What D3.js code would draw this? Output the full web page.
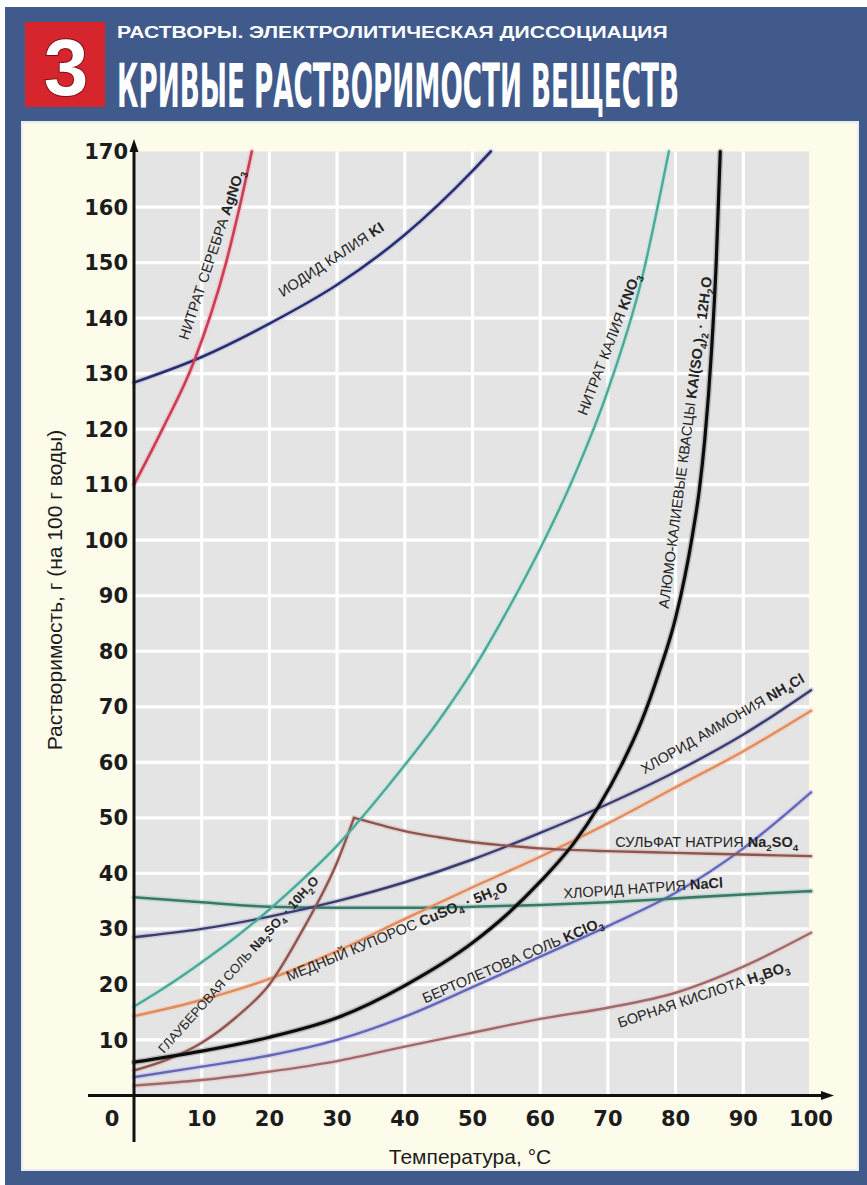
<!DOCTYPE html>
<html lang="ru">
<head>
<meta charset="UTF-8">
<title>Кривые растворимости веществ</title>
<script src="https://cdn.jsdelivr.net/npm/d3@7"></script>
<style>
  body { margin: 0; background: #fff; }
  svg { display: block; }
  .tick { font: bold 21px "DejaVu Sans", sans-serif; fill: #1c1c1c; }
  .axis-title { font: 21px "Liberation Sans", Arial, sans-serif; fill: #1c1c1c; }
  .curve-label { font: 14.5px "Liberation Sans", Arial, sans-serif; fill: #242424; }
</style>
</head>
<body>
<script>
// ---- data (temperature °C, solubility g / 100 g water) ----
const agno3   = [[0,110],[4.2,120],[8.8,132],[13.6,150],[15.6,160],[17.4,170]];
const ki      = [[0,128.4],[10,133],[20,139],[30,146],[40,155],[50,166.5],[52.7,170]];
const kno3    = [[0,16],[5,19.8],[10,24],[15,28.5],[20,33.5],[25,39],[30,45],[35,52],[40,59.5],[45,67.5],[50,76.5],[55,87],[60,98.5],[65,111.5],[70,127],[75,147],[79,170]];
const alum    = [[0,6],[10,8],[20,10.5],[30,14],[40,19.8],[50,27.5],[55,32.5],[60,38.5],[65,45.5],[68.6,52],[72,59.5],[75,67.5],[77.5,76],[80,86],[82.5,101],[83.5,109],[84.3,118],[85.3,134],[86,150],[86.6,170]];
const nh4cl   = [[0,28.5],[10,30],[20,32.2],[30,35],[40,38.4],[50,42.5],[60,47.3],[70,52.5],[80,58.3],[90,65],[100,73]];
const cuso4   = [[0,14.3],[10,17.2],[20,21],[30,26],[40,31.8],[50,37.5],[60,43],[70,49],[80,55.5],[90,62],[100,69.3]];
const glauber = [[0,4.5],[5,6.5],[10,9.5],[15,14],[20,20],[25,30],[30,42],[32.5,50]];
const na2so4  = [[32.5,50],[35,49.2],[40,47.6],[45,46.5],[50,45.6],[55,45],[60,44.5],[70,44],[80,43.7],[90,43.4],[100,43.1]];
const nacl    = [[0,35.7],[10,34.8],[20,34],[30,33.8],[40,33.8],[50,34],[60,34.3],[70,34.8],[80,35.5],[90,36.2],[100,36.8]];
const kclo3   = [[0,3.3],[10,5.2],[20,7.2],[30,10],[40,14.2],[50,19.5],[60,25],[70,30.5],[80,36.5],[90,44.5],[100,54.6]];
const h3bo3   = [[0,1.8],[10,2.8],[20,4.3],[30,6.2],[40,8.8],[50,11.3],[60,13.8],[70,15.8],[80,18.5],[90,23.2],[100,29.3]];

const xTicks = [10,20,30,40,50,60,70,80,90,100];
const yTicks = [10,20,30,40,50,60,70,80,90,100,110,120,130,140,150,160,170];

const series = [
  {data: h3bo3,   color: "#a06a6a", glow: "#e8c4c4", w: 2.4},
  {data: kclo3,   color: "#6466b6", glow: "#c4c4ee", w: 2.4},
  {data: nacl,    color: "#3b7868", glow: "#a8d0c4", w: 2.6},
  {data: cuso4,   color: "#e08c62", glow: "#f6c8a8", w: 2.4},
  {data: nh4cl,   color: "#3a3c6c", glow: "#b4b4d4", w: 2.4},
  {data: glauber, color: "#8c5650", glow: "#e0c0bc", w: 2.4},
  {data: na2so4,  color: "#8c5650", glow: "#e0c0bc", w: 2.4},
  {data: kno3,    color: "#4ca898", glow: "#bce4dc", w: 2.4},
  {data: ki,      color: "#282f6c", glow: "#b8bce0", w: 2.6},
  {data: agno3,   color: "#c83e52", glow: "#f4b0bc", w: 2.6},
  {data: alum,    color: "#0c0c0c", glow: "#9a9a9a", w: 3.2}
];

// label: plain text, formula (_n = subscript), centre (t, s), angle
const labels = [
  {text: "НИТРАТ СЕРЕБРА ", f: "AgNO_3", t: 11.4, s: 151.4, a: -71.5},
  {text: "ИОДИД КАЛИЯ ", f: "KI", t: 29.1, s: 150.6, a: -33.5},
  {text: "НИТРАТ КАЛИЯ ", f: "KNO_3", t: 70.1, s: 135.3, a: -69},
  {text: "АЛЮМО-КАЛИЕВЫЕ КВАСЦЫ  ", f: "KAl(SO_4)_2 · 12H_2O", t: 81.4, s: 117.6, a: -82.5},
  {text: "ХЛОРИД АММОНИЯ ", f: "NH_4Cl", t: 86.9, s: 67, a: -30},
  {text: "СУЛЬФАТ НАТРИЯ ", f: "Na_2SO_4", t: 84.6, s: 45.7, a: 0},
  {text: "ХЛОРИД НАТРИЯ ", f: "NaCl", t: 75.2, s: 37.4, a: -4},
  {text: "МЕДНЫЙ КУПОРОС  ", f: "CuSO_4 · 5H_2O", t: 38.8, s: 29.6, a: -22.5},
  {text: "ГЛАУБЕРОВАЯ СОЛЬ ", f: "Na_2SO_4 · 10H_2O", t: 15.4, s: 23.6, a: -48, small: true},
  {text: "БЕРТОЛЕТОВА СОЛЬ ", f: "KClO_3", t: 55.9, s: 24.4, a: -23.3},
  {text: "БОРНАЯ КИСЛОТА ", f: "H_3BO_3", t: 84.1, s: 18.2, a: -18.6}
];

// ---- layout ----
const W = 867, H = 1185;
const svg = d3.select("body").append("svg").attr("width", W).attr("height", H);

svg.append("rect").attr("x", 5).attr("y", 7).attr("width", W - 5).attr("height", H - 7).attr("fill", "#3f5a8b");
svg.append("rect").attr("x", 22).attr("y", 122).attr("width", 836).attr("height", 1048)
  .attr("fill", "#fdfbea").attr("stroke", "#e8ecf2").attr("stroke-width", 2);

// header
svg.append("rect").attr("x", 25).attr("y", 22).attr("width", 80).attr("height", 85).attr("fill", "#d6252c");
svg.append("text").attr("x", 66).attr("y", 95).attr("text-anchor", "middle")
  .attr("font-family", "Liberation Sans, Arial, sans-serif").attr("font-weight", "bold")
  .attr("font-size", 80).attr("fill", "#fff")
  .style("paint-order", "stroke").attr("stroke", "#7a1014").attr("stroke-width", 2)
  .text("3");

// squeeze a header line to a given width with a horizontal scale
function squeezed(txt, x0, y0, width, size, family) {
  const t = svg.append("text").attr("x", 0).attr("y", 0)
    .attr("font-family", family).attr("font-weight", "bold")
    .attr("font-size", size).attr("fill", "#fff").text(txt);
  const k = width / t.node().getComputedTextLength();
  t.attr("transform", `translate(${x0},${y0}) scale(${k},1)`);
}
squeezed("РАСТВОРЫ. ЭЛЕКТРОЛИТИЧЕСКАЯ ДИССОЦИАЦИЯ", 117, 38, 551, 16, "Liberation Sans, Arial, sans-serif");
squeezed("КРИВЫЕ РАСТВОРИМОСТИ ВЕЩЕСТВ", 117, 107, 562, 60, "DejaVu Sans Condensed, DejaVu Sans, sans-serif");

// scales
const x = d3.scaleLinear().domain([0, 100]).range([134, 811]);
const y = d3.scaleLinear().domain([0, 170]).range([1095.5, 151.5]);

// plot background + grid
svg.append("rect").attr("x", x(0)).attr("y", y(170))
  .attr("width", x(100) - x(0) - 2).attr("height", y(0) - y(170)).attr("fill", "#e4e4e4");
const grid = svg.append("g").attr("stroke", "#fff").attr("stroke-width", 3.2);
grid.selectAll("line.v").data(xTicks.slice(0, -1)).join("line")
  .attr("x1", d => x(d)).attr("x2", d => x(d)).attr("y1", y(170)).attr("y2", y(0));
grid.selectAll("line.h").data(yTicks.slice(0, -1)).join("line")
  .attr("x1", x(0)).attr("x2", x(100) - 2).attr("y1", d => y(d)).attr("y2", d => y(d));

// curves
const line = d3.line().x(d => x(d[0])).y(d => y(d[1])).curve(d3.curveMonotoneX);
const curves = svg.append("g").attr("fill", "none").attr("stroke-linecap", "round");
series.forEach(sr => {
  curves.append("path").attr("d", line(sr.data)).attr("stroke", sr.glow)
    .attr("stroke-width", sr.w + 3).attr("stroke-opacity", 0.55);
});
series.forEach(sr => {
  curves.append("path").attr("d", line(sr.data)).attr("stroke", sr.color).attr("stroke-width", sr.w);
});

// axes
const ax = svg.append("g").attr("stroke", "#111").attr("stroke-width", 3);
ax.append("line").attr("x1", 88).attr("x2", 826).attr("y1", y(0)).attr("y2", y(0));
ax.append("line").attr("x1", x(0)).attr("x2", x(0)).attr("y1", 1142).attr("y2", 146);
svg.append("path").attr("fill", "#111")
  .attr("d", `M${x(0)},${139} l-4.5,13 l9,0 z`);
svg.append("path").attr("fill", "#111")
  .attr("d", `M${834},${y(0)} l-13,-4.5 l0,9 z`);

svg.append("g").selectAll("text").data(yTicks).join("text")
  .attr("class", "tick").attr("x", 128).attr("y", d => y(d)).attr("dy", "0.36em")
  .attr("text-anchor", "end").text(d => d);
svg.append("g").selectAll("text").data(xTicks).join("text")
  .attr("class", "tick").attr("x", d => x(d)).attr("y", 1126)
  .attr("text-anchor", "middle").text(d => d);
svg.append("text").attr("class", "tick").attr("x", 112).attr("y", 1126)
  .attr("text-anchor", "middle").text("0");

svg.append("text").attr("class", "axis-title").attr("x", 470).attr("y", 1164)
  .attr("text-anchor", "middle").text("Температура, °C");
svg.append("text").attr("class", "axis-title")
  .attr("transform", "translate(62,590) rotate(-90)")
  .attr("text-anchor", "middle").text("Растворимость, г (на 100 г воды)");

// curve labels
function rich(sel, str, bold) {
  const re = /_(\d)/g;
  let last = 0, m, pending = 0;
  const add = (s, sub) => {
    const t = sel.append("tspan").text(s);
    if (bold) t.attr("font-weight", "bold");
    if (sub) { t.attr("font-size", "0.68em").attr("dy", 4 - pending); pending = 4; }
    else if (pending) { t.attr("dy", -pending); pending = 0; }
  };
  while ((m = re.exec(str))) {
    if (m.index > last) add(str.slice(last, m.index), false);
    add(m[1], true);
    last = re.lastIndex;
  }
  if (last < str.length) add(str.slice(last), false);
}

labels.forEach(l => {
  const t = svg.append("text").attr("class", "curve-label")
    .attr("text-anchor", "middle").attr("dy", "0.36em")
    .attr("transform", `translate(${x(l.t)},${y(l.s)}) rotate(${l.a})`);
  if (l.small) t.style("font-size", "13px");
  rich(t, l.text, false);
  rich(t, l.f, true);
});
</script>
</body>
</html>
